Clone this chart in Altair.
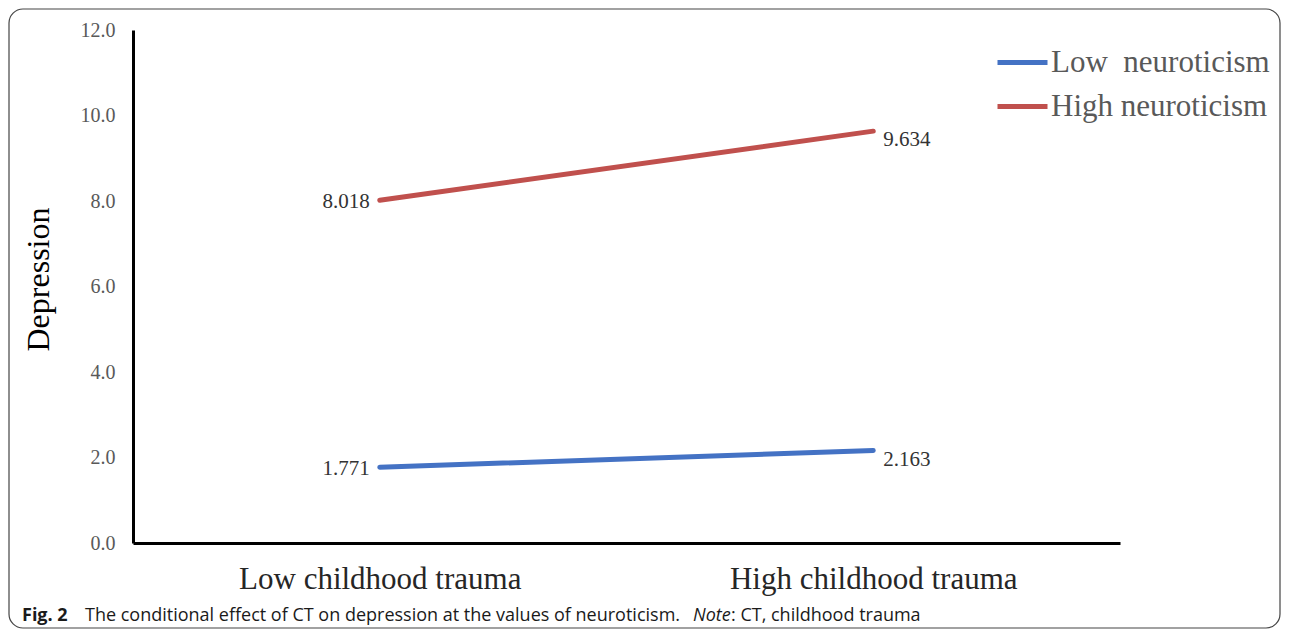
import altair as alt
import pandas as pd

# ---- data ----
categories = ["Low childhood trauma", "High childhood trauma"]
series = ["Low\u00a0 neuroticism", "High neuroticism"]
low_neuro = [1.771, 2.163]
high_neuro = [8.018, 9.634]
y_ticks = [0, 2, 4, 6, 8, 10, 12]
colors = ["#4472C4", "#C0504D"]

rows = []
for s, vals in zip(series, [low_neuro, high_neuro]):
    for c, v in zip(categories, vals):
        rows.append({"trauma": c, "series": s, "value": v, "label": f"{v:.3f}"})
df = pd.DataFrame(rows)

W, H = 987, 513
serif = "Liberation Serif"

x_enc = alt.X("trauma:N", sort=categories,
              scale=alt.Scale(type="point", padding=0.5),
              axis=alt.Axis(title=None, labelFont=serif, labelFontSize=31,
                            labelColor="#262626", labelPadding=21, ticks=False,
                            labelLimit=0, grid=False,
                            domainColor="#000000", domainWidth=3, labelAngle=0))
y_enc = alt.Y("value:Q", scale=alt.Scale(domain=[0, 12], nice=False),
              axis=alt.Axis(title="Depression", values=y_ticks, format=".1f",
                            labelFont=serif, labelFontSize=20, labelColor="#595959",
                            labelPadding=18, ticks=False, grid=False,
                            domainColor="#000000", domainWidth=3,
                            titleFont=serif, titleFontSize=32, titleFontWeight="normal",
                            titleColor="#000000", titleX=-95, titleY=249,
                            titleBaseline="middle", titleAngle=270))

base = alt.Chart(df)

lines = base.mark_line(strokeWidth=5, strokeCap="round").encode(
    x=x_enc, y=y_enc,
    color=alt.Color("series:N", sort=series,
                    scale=alt.Scale(domain=series, range=colors),
                    legend=alt.Legend(title=None, orient="none", legendX=862, legendY=5,
                                      symbolType="stroke", symbolSize=2500,
                                      symbolStrokeWidth=5, labelFont=serif,
                                      labelFontSize=31, labelColor="#595959",
                                      labelOffset=1, rowPadding=1,
                                      labelLimit=400)),
)

left_labels = base.transform_filter(
    alt.datum.trauma == categories[0]
).mark_text(align="right", dx=-10, dy=2, font=serif, fontSize=21, color="#333333").encode(
    x=alt.X("trauma:N", sort=categories), y="value:Q", text="label:N")

right_labels = base.transform_filter(
    alt.datum.trauma == categories[1]
).mark_text(align="left", dx=10, dy=9, font=serif, fontSize=21, color="#333333").encode(
    x=alt.X("trauma:N", sort=categories), y="value:Q", text="label:N")

frame = alt.Chart(pd.DataFrame({"a": [0]})).mark_rect(
    fill=None, stroke="#444444", strokeWidth=1.2, cornerRadius=14
).encode(x=alt.value(-124), x2=alt.value(W + 160), y=alt.value(-21), y2=alt.value(H + 85))

cap_font = "Open Sans"
cap_y = 586
cap_size = 18
cap_bold = alt.Chart(pd.DataFrame({"t": ["Fig. 2"]})).mark_text(
    align="left", baseline="middle", font=cap_font, fontSize=18, fontWeight="bold",
    color="#1a1a1a").encode(x=alt.value(-111), y=alt.value(cap_y), text="t:N")
cap_main = alt.Chart(pd.DataFrame({"t": ["The conditional effect of CT on depression at the values of neuroticism."]})).mark_text(
    align="left", baseline="middle", font=cap_font, fontSize=cap_size,
    color="#1a1a1a").encode(x=alt.value(-48), y=alt.value(cap_y), text="t:N")
cap_note = alt.Chart(pd.DataFrame({"t": ["Note"]})).mark_text(
    align="left", baseline="middle", font=cap_font, fontSize=cap_size, fontStyle="italic",
    color="#1a1a1a").encode(x=alt.value(560), y=alt.value(cap_y), text="t:N")
cap_rest = alt.Chart(pd.DataFrame({"t": [": CT, childhood trauma"]})).mark_text(
    align="left", baseline="middle", font=cap_font, fontSize=cap_size,
    color="#1a1a1a").encode(x=alt.value(598), y=alt.value(cap_y), text="t:N")

chart = alt.layer(frame, lines, left_labels, right_labels,
                  cap_bold, cap_main, cap_note, cap_rest).properties(
    width=W, height=H,
    autosize=alt.AutoSizeParams(type="none"),
    padding={"left": 125, "top": 22, "right": 162, "bottom": 87},
    background="#ffffff",
).configure_view(stroke=None)

chart.save("out.html", embed_options={"renderer": "svg", "actions": False})
